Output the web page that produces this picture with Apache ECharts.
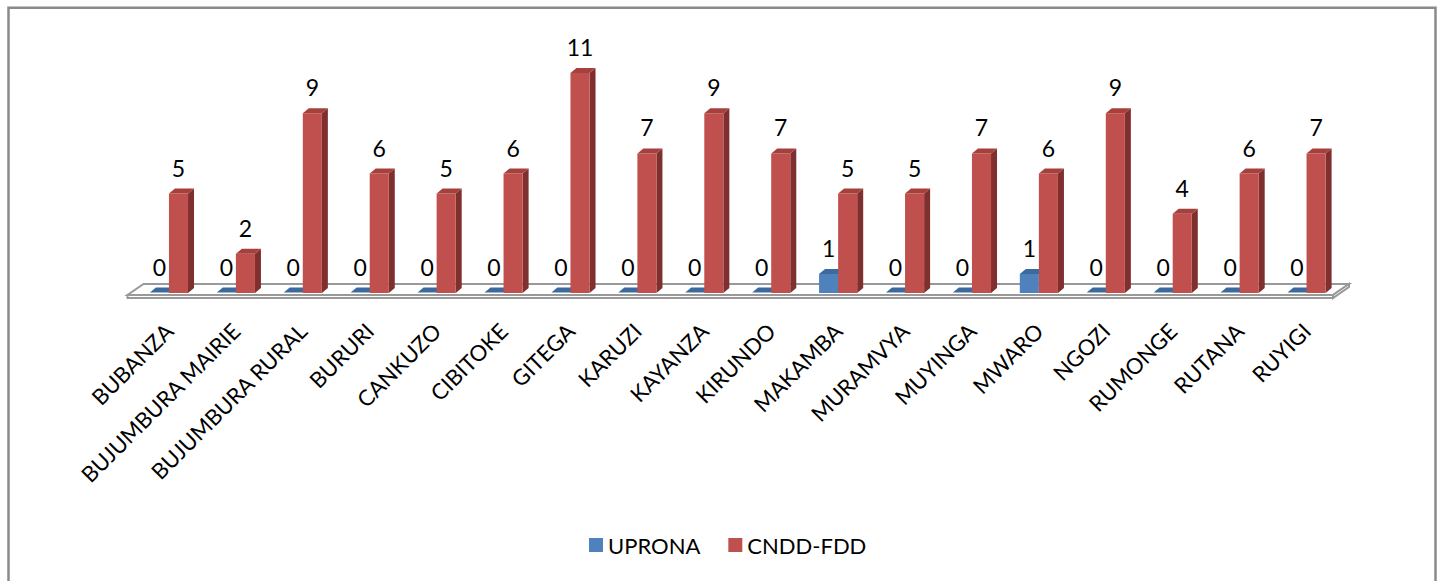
<!DOCTYPE html>
<html>
<head>
<meta charset="utf-8">
<script src="https://cdn.jsdelivr.net/npm/echarts@6/dist/echarts.min.js"></script>
<style>
  html, body { margin: 0; padding: 0; background: #ffffff; }
  #chart { width: 1438px; height: 581px; }
</style>
</head>
<body>
<div id="chart"></div>
<script>
const categories = ['BUBANZA', 'BUJUMBURA MAIRIE', 'BUJUMBURA RURAL', 'BURURI', 'CANKUZO', 'CIBITOKE', 'GITEGA', 'KARUZI', 'KAYANZA', 'KIRUNDO', 'MAKAMBA', 'MURAMVYA', 'MUYINGA', 'MWARO', 'NGOZI', 'RUMONGE', 'RUTANA', 'RUYIGI'];
const seriesNames = ['UPRONA', 'CNDD-FDD'];
const upronaValues = [0, 0, 0, 0, 0, 0, 0, 0, 0, 0, 1, 0, 0, 1, 0, 0, 0, 0];
const cnddValues = [5, 2, 9, 6, 5, 6, 11, 7, 9, 7, 5, 5, 7, 6, 9, 4, 6, 7];

const FONT = 'Lato, "Open Sans", sans-serif';
const DX = 6, DY = -5;

function barRenderer(side, front, right, topC) {
  return function (params, api) {
    const idx = api.value(0);
    const v = api.value(1);
    const base = api.coord([idx, 0]);
    const top = api.coord([idx, v]);
    const bandW = api.size([1, 0])[0];
    const barW = bandW * 0.285;
    const x0 = side < 0 ? base[0] - barW : base[0];
    const x1 = x0 + barW;
    const yb = base[1] - 1;
    const yt = v > 0 ? top[1] : yb - 0.5;
    const children = [];
    if (v > 0) {
      children.push({ type: 'polygon', shape: { points: [[x1, yb], [x1 + DX, yb + DY], [x1 + DX, yt + DY], [x1, yt]] }, style: { fill: right } });
      children.push({ type: 'rect', shape: { x: x0, y: yt, width: barW, height: yb - yt }, style: { fill: front } });
    }
    children.push({ type: 'polygon', shape: { points: [[x0, yt], [x1, yt], [x1 + DX, yt + DY], [x0 + DX, yt + DY]] }, style: { fill: topC } });
    children.push({ type: 'text', style: { text: String(v), x: x0 + barW / 2, y: yt - 26, align: 'center', verticalAlign: 'middle', fill: '#000', font: '23px ' + FONT } });
    return { type: 'group', children: children };
  };
}

function floorRenderer(params, api) {
  const cs = params.coordSys;
  const y0 = api.coord([0, 0])[1];
  const fl = cs.x - 8, fr = cs.x + cs.width - 7;
  const bl = fl + 16, br = fr + 16;
  const yf = y0 + 1, yk = y0 - 10, th = 3;
  const stroke = { stroke: '#999999', lineWidth: 2, fill: '#ffffff' };
  return {
    type: 'group',
    children: [
      { type: 'polygon', shape: { points: [[fl, yf], [fr, yf], [br, yk], [bl, yk]] }, style: stroke },
      { type: 'polygon', shape: { points: [[fl, yf], [fr, yf], [fr, yf + th], [fl, yf + th]] }, style: stroke },
      { type: 'polygon', shape: { points: [[fr, yf], [br, yk], [br, yk + th], [fr, yf + th]] }, style: stroke }
    ]
  };
}

const chart = echarts.init(document.getElementById('chart'), null, { renderer: 'svg' });
chart.setOption({
  animation: false,
  backgroundColor: '#ffffff',
  graphic: [{
    type: 'rect', shape: { x: 8.5, y: 7.7, width: 1427, height: 620 },
    style: { fill: 'none', stroke: '#8a8a8a', lineWidth: 2.5 }, z: 100, silent: true
  }],
  grid: { left: 135.5, right: 98, top: 53, bottom: 287 },
  legend: {
    data: seriesNames,
    left: 584, top: 529,
    icon: 'rect', itemWidth: 14, itemHeight: 14, itemGap: 28,
    textStyle: { fontFamily: FONT, fontSize: 22, color: '#000' }
  },
  xAxis: {
    type: 'category', data: categories,
    axisLine: { show: false }, axisTick: { show: false }, splitLine: { show: false },
    axisLabel: { interval: 0, rotate: 45, margin: 33, fontFamily: FONT, fontSize: 22, color: '#000' }
  },
  yAxis: { type: 'value', min: 0, max: 12, show: false },
  series: [
    { type: 'custom', name: 'floor', data: [[0, 0]], renderItem: floorRenderer, silent: true, z: 1, encode: { x: 0, y: 1 } },
    { type: 'custom', name: seriesNames[0], data: upronaValues.map((v, i) => [i, v]), encode: { x: 0, y: 1 }, z: 2,
      itemStyle: { color: '#4f81bd' },
      renderItem: barRenderer(-1, '#4f81bd', '#355b8c', '#3c6a9e') },
    { type: 'custom', name: seriesNames[1], data: cnddValues.map((v, i) => [i, v]), encode: { x: 0, y: 1 }, z: 3,
      itemStyle: { color: '#c0504d' },
      renderItem: barRenderer(1, '#c0504d', '#7f2f2d', '#a5403d') }
  ]
});
</script>
</body>
</html>
